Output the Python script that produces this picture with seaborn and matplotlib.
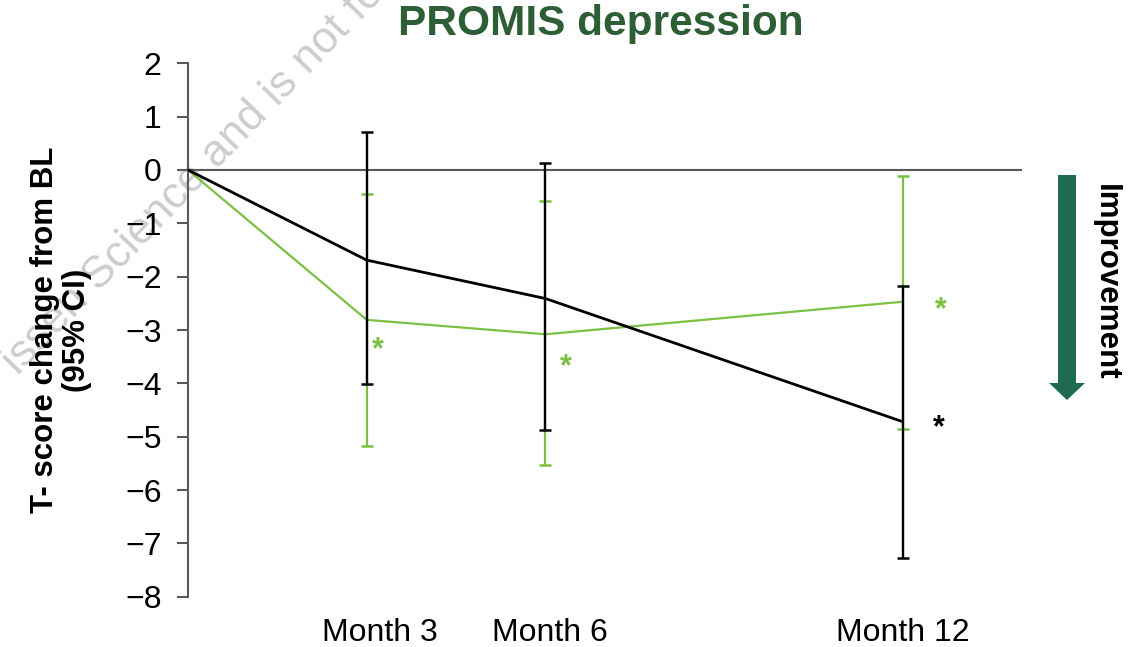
import numpy as np
import pandas as pd
import matplotlib
matplotlib.use("Agg")
import matplotlib.pyplot as plt
import matplotlib.transforms as mtransforms
from matplotlib.patches import Polygon
import seaborn as sns

# Mean T-score change from baseline with 95% CI bounds
months = [0, 3, 6, 12]
month_labels = ["Month 3", "Month 6", "Month 12"]

black_mean = [0.0, -1.69, -2.41, -4.72]
black_lower = [-4.01, -4.88, -7.27]
black_upper = [0.71, 0.13, -2.18]

green_mean = [0.0, -2.81, -3.08, -2.47]
green_lower = [-5.17, -5.54, -4.86]
green_upper = [-0.45, -0.59, -0.11]

# significance markers: (group, month index)
sig_marks = [("green", 1), ("green", 2), ("green", 3), ("black", 3)]

BLACK = "#000000"
GREEN = "#7AC143"
AXIS_GREY = "#595959"
TITLE_GREEN = "#2D5E36"
ARROW_GREEN = "#1F6B50"

sns.set_style("white")
plt.rcParams["font.family"] = ["Liberation Sans", "DejaVu Sans"]
plt.rcParams["text.color"] = "black"

df = pd.DataFrame({
    "month": months * 2,
    "change": black_mean + green_mean,
    "group": ["black"] * len(months) + ["green"] * len(months),
})

fig = plt.figure(figsize=(11.4, 6.47), dpi=100)
ax = fig.add_axes([0.1649, 0.0777, 0.7316, 0.8245])
ax.set_facecolor("none")

# faint diagonal watermark behind the chart
fig.text(0.170, 0.725, "issen Science and is not fo", rotation=46,
         ha="center", va="center", fontsize=32, color="#CDCDCD", zorder=-5)

ax.axhline(0, color=AXIS_GREY, lw=1.5, zorder=1)

sns.lineplot(data=df, x="month", y="change", hue="group",
             palette={"black": BLACK, "green": GREEN}, hue_order=["green", "black"],
             linewidth=1.9, legend=False, ax=ax, zorder=3)
for line, lw in zip(ax.lines[1:], [1.6, 2.0]):
    line.set_linewidth(lw)

x_ci = np.array(months[1:])
g_mean = np.array(green_mean[1:])
b_mean = np.array(black_mean[1:])
ax.errorbar(x_ci, g_mean, yerr=[g_mean - np.array(green_lower), np.array(green_upper) - g_mean],
            fmt="none", ecolor=GREEN, elinewidth=1.6, capsize=4, capthick=1.8, zorder=4)
ax.errorbar(x_ci, b_mean, yerr=[b_mean - np.array(black_lower), np.array(black_upper) - b_mean],
            fmt="none", ecolor=BLACK, elinewidth=1.7, capsize=4, capthick=1.8, zorder=5)

# significance asterisks next to the points
means = {"green": green_mean, "black": black_mean}
colors = {"green": GREEN, "black": BLACK}
offsets = {("green", 1): (8, -22), ("green", 2): (15, -24), ("green", 3): (27, -6),
           ("black", 3): (26, -5)}
for grp, i in sig_marks:
    ax.annotate("*", xy=(months[i], means[grp][i]), xytext=offsets[(grp, i)],
                textcoords="offset points", ha="center", va="center",
                fontsize=22, color=colors[grp], fontweight="bold", zorder=6)

ax.set_xlim(0, 14)
ax.set_ylim(-8, 2)
ax.set_yticks(np.arange(-8, 3, 1))
ax.set_yticklabels([("\u2212" + str(abs(v))) if v < 0 else str(v) for v in range(-8, 3)])
ax.set_xticks(months[1:])
ax.set_xticklabels(month_labels)
ax.tick_params(axis="x", length=0, pad=15, labelsize=23, labelcolor="black")
ax.tick_params(axis="y", direction="out", length=8, width=1.5, color=AXIS_GREY,
               labelsize=23, pad=11, left=True, labelcolor="black")

# nudge the month labels slightly to the right
for lbl, dx in zip(ax.get_xticklabels(), [13, 4, 0]):
    lbl.set_transform(lbl.get_transform() +
                      mtransforms.ScaledTranslation(dx / 100.0, 0, fig.dpi_scale_trans))

for side in ["top", "right", "bottom"]:
    ax.spines[side].set_visible(False)
ax.spines["left"].set_color(AXIS_GREY)
ax.spines["left"].set_linewidth(1.5)

ax.set_xlabel("")
ax.set_ylabel("T- score change from BL\n(95% CI)", fontsize=22.5, fontweight="bold",
              linespacing=1.1, color="black")
ax.yaxis.set_label_coords(-0.115, 0.5)

fig.text(0.527, 0.963, "PROMIS depression", ha="center", va="center",
         fontsize=30.5, fontweight="bold", color=TITLE_GREEN)

# downward "Improvement" arrow on the right
px = lambda x, y: (x / 100.0, (647 - y) / 100.0)
arrow = Polygon([px(1058, 175), px(1076, 175), px(1076, 383), px(1085, 383),
                 px(1067, 400), px(1049, 383), px(1058, 383)],
                closed=True, facecolor=ARROW_GREEN, edgecolor="none",
                transform=fig.dpi_scale_trans)
fig.add_artist(arrow)
fig.text(1106 / 1140, 1 - 282 / 647, "Improvement", rotation=-90, ha="center",
         va="center", fontsize=22.5, fontweight="bold", color="black")

fig.savefig("out.png", dpi=100)
